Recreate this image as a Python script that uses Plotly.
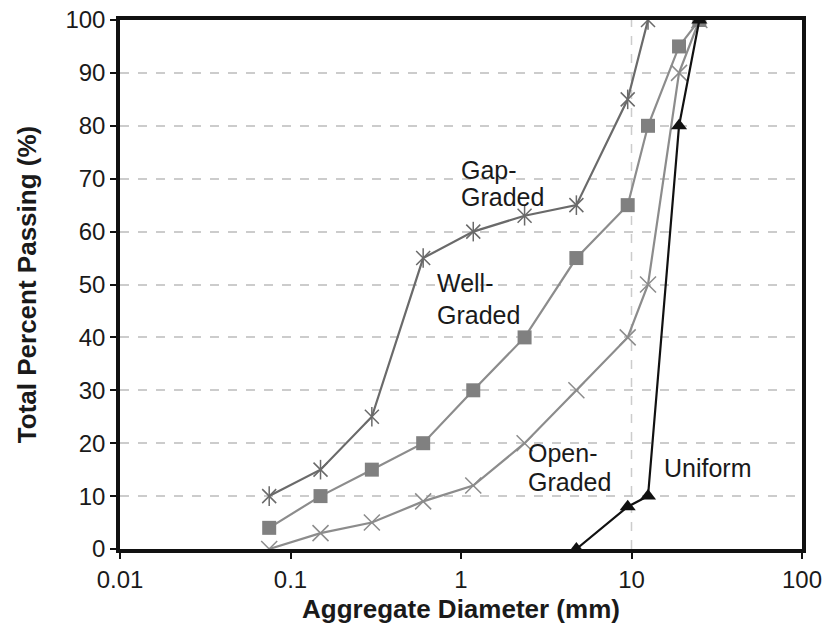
import numpy as np
import plotly.graph_objects as go

sieve = [0.075, 0.15, 0.3, 0.6, 1.18, 2.36, 4.75, 9.5, 12.5, 19, 25]
gap_x = [0.075, 0.15, 0.3, 0.6, 1.18, 2.36, 4.75, 9.5, 12.5]
gap_y = [10, 15, 25, 55, 60, 63, 65, 85, 100]
well_x = sieve
well_y = [4, 10, 15, 20, 30, 40, 55, 65, 80, 95, 100]
open_x = sieve
open_y = [0, 3, 5, 9, 12, 20, 30, 40, 50, 90, 100]
uni_x = [4.75, 9.5, 12.5, 19, 25]
uni_y = [0, 8, 10, 80, 100]

xtick_vals = [0.01, 0.1, 1, 10, 100]
xtick_text = ["0.01", "0.1", "1", "10", "100"]

FONT = "Liberation Sans, Arial, sans-serif"
GAP_C = "#6a6a6a"
MID_C = "#8c8c8c"

fig = go.Figure()
fig.add_trace(go.Scatter(x=open_x, y=open_y, mode="lines+markers",
    line=dict(color=MID_C, width=2.2),
    marker=dict(symbol="x-thin-open", size=16, color=MID_C, line=dict(color=MID_C, width=1.5))))
fig.add_trace(go.Scatter(x=well_x, y=well_y, mode="lines+markers",
    line=dict(color=MID_C, width=2.2),
    marker=dict(symbol="square", size=14, color="#808080")))
fig.add_trace(go.Scatter(x=gap_x, y=gap_y, mode="lines+markers",
    line=dict(color=GAP_C, width=2.2),
    marker=dict(symbol="x-thin-open", size=14, color=GAP_C, line=dict(color=GAP_C, width=1.5))))
fig.add_trace(go.Scatter(x=gap_x, y=gap_y, mode="markers",
    marker=dict(symbol="line-ns-open", size=14, color=GAP_C, line=dict(color=GAP_C, width=1.5))))
fig.add_trace(go.Scatter(x=uni_x, y=uni_y, mode="lines+markers",
    line=dict(color="#111111", width=2.2),
    marker=dict(symbol="triangle-up", size=14, color="#111111")))

fig.add_shape(type="line", x0=10, x1=10, y0=0, y1=100, xref="x", yref="y",
              line=dict(color="#cccccc", width=1.5, dash="dash"), layer="below")

labels = [("Gap-", -0.013, 71.6), ("Graded", -0.013, 66.6),
          ("Well-", -0.154, 50.3), ("Graded", -0.154, 44.2),
          ("Open-", 0.38, 18.1), ("Graded", 0.38, 12.7),
          ("Uniform", 1.177, 15.3)]
for t, lx, y in labels:
    fig.add_annotation(x=lx, y=y, text=t, showarrow=False, xanchor="left",
                       yanchor="middle", align="left",
                       font=dict(family=FONT, size=25, color="#1a1a1a"))

fig.update_layout(
    width=824, height=627, margin=dict(l=120, r=22, t=20, b=78),
    plot_bgcolor="white", paper_bgcolor="white", showlegend=False,
    font=dict(family=FONT, size=24, color="#1a1a1a"),
)
fig.update_xaxes(type="log", range=[-2, 2], tickvals=xtick_vals, ticktext=xtick_text,
    automargin=False,
    showgrid=False, showline=True, mirror=True, linecolor="#111111", linewidth=3.5,
    ticks="outside", ticklen=6, tickwidth=1.5, tickcolor="#111111", zeroline=False,
    tickfont=dict(size=24),
    title=dict(text="<b>Aggregate Diameter (mm)</b>", font=dict(size=26), standoff=9))
fig.update_yaxes(range=[0, 100], dtick=10, showgrid=True, gridcolor="#cccccc",
    automargin=False,
    griddash="dash", gridwidth=1.5, showline=True, mirror=True, linecolor="#111111",
    linewidth=3.5, ticks="outside", ticklen=6, tickwidth=1.5, tickcolor="#111111",
    zeroline=False, tickfont=dict(size=24),
    title=dict(text="<b>Total Percent Passing (%)</b>", font=dict(size=26), standoff=22))

fig.write_html("out.html")
